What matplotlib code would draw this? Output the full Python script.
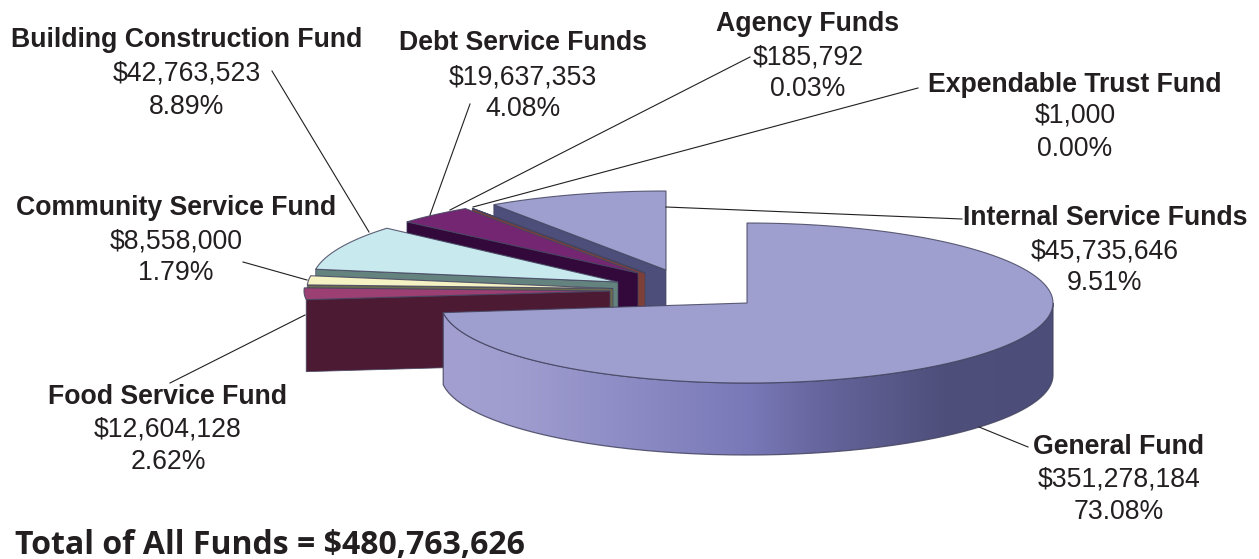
import numpy as np
import matplotlib
matplotlib.use("Agg")
import matplotlib.pyplot as plt
from matplotlib.colors import to_rgb
from matplotlib.patches import PathPatch, Polygon
from matplotlib.path import Path

# Fund data, clockwise from twelve o'clock
funds = ["General Fund", "Food Service Fund", "Community Service Fund",
         "Building Construction Fund", "Debt Service Funds", "Agency Funds",
         "Expendable Trust Fund", "Internal Service Funds"]
amounts = [351278184, 12604128, 8558000, 42763523, 19637353, 185792, 1000, 45735646]
shares = [73.08, 2.62, 1.79, 8.89, 4.08, 0.03, 0.00, 9.51]
total_label = "Total of All Funds = $480,763,626"

# Exploded pie layout in canvas pixels
apex_x = [747, 610, 613, 618, 638, 645, 645, 666]
apex_y = [303, 291, 288.5, 282, 273, 273, 273, 270]
radius_y = [80, 72, 82, 82, 78, 78, 78, 79]
RADIUS_X = 306
DEPTH = 72

top_colors = ["#9f9fcf", "#9c3f72", "#f5f2c3", "#c8e9ee", "#752672", "#7b3f3a", "#7b3f3a", "#9f9fcf"]
wall_colors = ["#7878b8", "#4c1a33", "#6b6b50", "#64837f", "#32093a", "#7e3f38", "#7e3f38", "#4d4e7a"]

# Label placement: centre x, y of the three text rows
label_x = [1119, 168, 176, 187, 523, 808, 1075, 1105]
label_rows = [(447, 480, 512), (397, 429, 462), (208, 241, 273), (40, 74, 107),
              (43, 78, 109), (24, 58, 89), (85, 116, 149), (218, 251, 283)]
leaders = [((979, 427), (1028, 447)), ((305, 315), (170, 383)), ((307, 280), (243, 262)),
           ((369, 232), (272, 71)), ((430, 215), (470, 104)), ((450, 210), (750, 57)),
           ((473, 207), (918, 88)), ((666, 207), (962, 219))]

fig = plt.figure(figsize=(12.59, 5.59), dpi=100)
ax = fig.add_axes([0, 0, 1, 1])


def rim_point(i, theta):
    t = np.radians(theta)
    return apex_x[i] + RADIUS_X * np.sin(t), apex_y[i] - radius_y[i] * np.cos(t)


edges = np.concatenate([[0], np.cumsum(shares)]) * 3.6
EDGE = (0.27, 0.27, 0.38, 0.85)

# Painted back to front so nearer slices cover the walls behind them
for i in reversed(range(len(funds))):
    start, stop = edges[i], edges[i + 1]
    xs, ys = rim_point(i, np.linspace(start, stop, 160))
    if i == 0:
        # Curved front wall of the large slice, shaded from left to right
        fx, fy = rim_point(i, np.linspace(90, stop, 220))
        wall = np.column_stack([np.r_[fx, fx[::-1]], np.r_[fy, fy[::-1] + DEPTH]])
        stops = [0.0, 0.12, 0.5, 0.62, 0.82, 1.0]
        shades = ["#a3a0d1", "#9f9dcf", "#7979b9", "#66659d", "#4e4f7b", "#4c4d78"]
        ramp = np.array([[np.interp(np.linspace(0, 1, 400), stops,
                                    [to_rgb(c)[k] for c in shades]) for k in range(3)]])
        ramp = np.transpose(ramp, (0, 2, 1))
        im = ax.imshow(ramp, extent=(fx.min(), fx.max(), fy.max() + DEPTH, fy.min()),
                       aspect="auto", zorder=2 + 2 * (8 - i), interpolation="bilinear")
        clip = PathPatch(Path(np.vstack([wall, wall[:1]])), facecolor="none",
                         edgecolor=EDGE, lw=0.9, zorder=2 + 2 * (8 - i))
        ax.add_patch(clip)
        im.set_clip_path(clip)
    else:
        # Radial cut face on the near side of the slice
        ox, oy = rim_point(i, start)
        ax.add_patch(Polygon([(ox, oy), (apex_x[i], apex_y[i]),
                              (apex_x[i], apex_y[i] + DEPTH), (ox, oy + DEPTH)],
                             closed=True, facecolor=wall_colors[i], edgecolor=EDGE,
                             lw=0.6, zorder=1 + 2 * (8 - i)))
    top = np.column_stack([np.r_[apex_x[i], xs], np.r_[apex_y[i], ys]])
    ax.add_patch(Polygon(top, closed=True, facecolor=top_colors[i], edgecolor=EDGE,
                         lw=0.8, zorder=3 + 2 * (8 - i)))

# Leader lines and three-row labels
for (p0, p1) in leaders:
    ax.plot([p0[0], p1[0]], [p0[1], p1[1]], color="#231f20", lw=0.8, zorder=30)

TEXT = "#231f20"
for i, name in enumerate(funds):
    rows = label_rows[i]
    ax.text(label_x[i], rows[0], name, family="Liberation Sans", weight="bold",
            fontsize=19.2, color=TEXT, ha="center", va="center", zorder=40)
    ax.text(label_x[i], rows[1], f"${amounts[i]:,}", family="Liberation Sans",
            fontsize=19.2, color=TEXT, ha="center", va="center", zorder=40)
    ax.text(label_x[i], rows[2], f"{shares[i]:.2f}%", family="Liberation Sans",
            fontsize=19.2, color=TEXT, ha="center", va="center", zorder=40)

ax.text(15, 545, total_label, family="Open Sans", weight="bold", fontsize=23,
        color=TEXT, ha="left", va="center", zorder=40)

ax.set_xlim(0, 1259)
ax.set_ylim(559, 0)
ax.axis("off")
fig.savefig("out.png", dpi=100, facecolor="white")
